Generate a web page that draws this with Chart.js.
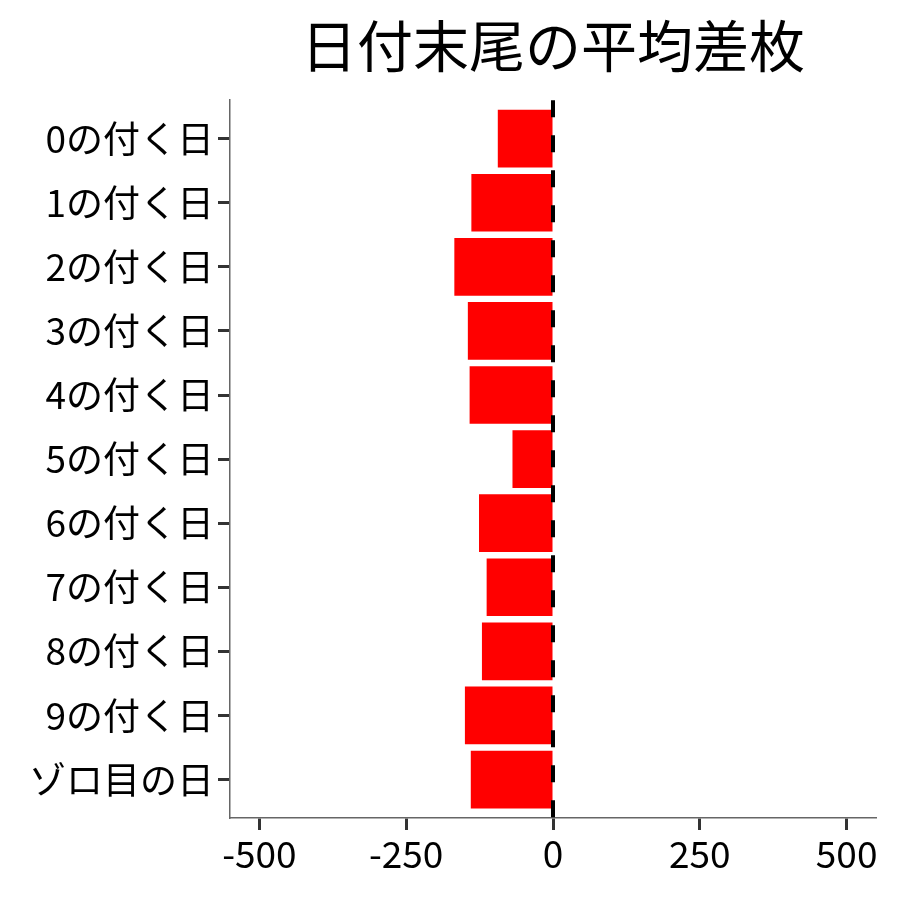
<html>
<head>
  <title>日付末尾の平均差枚</title>
  <style>
    body { margin: 0; background: #fff; }
    #wrap { width: 900px; height: 900px; }
  </style>
</head>
<body>
  <div id="wrap"><canvas id="chart" width="900" height="900"></canvas></div>

  <script src="https://cdn.jsdelivr.net/npm/chart.js"></script>
  <script>
    // datos
    const categories = ['0の付く日', '1の付く日', '2の付く日', '3の付く日', '4の付く日', '5の付く日',
      '6の付く日', '7の付く日', '8の付く日', '9の付く日', 'ゾロ目の日'];
    const diffValues = [-94, -139, -168, -145, -142, -69, -126, -113, -121, -150, -140];
    const xTicks = [-500, -250, 0, 250, 500];
    const titleText = '日付末尾の平均差枚';

    const FONT = '"Noto Sans CJK JP", "Noto Sans", sans-serif';

    // línea vertical discontinua en x = 0
    const zeroLine = {
      id: 'zeroLine',
      afterDatasetsDraw(chart) {
        const { ctx, chartArea, scales } = chart;
        const x = scales.x.getPixelForValue(0);
        ctx.save();
        ctx.strokeStyle = '#000';
        ctx.lineWidth = 4;
        ctx.setLineDash([17, 18]);
        ctx.beginPath();
        ctx.moveTo(x, chartArea.top);
        ctx.lineTo(x, chartArea.bottom);
        ctx.stroke();
        ctx.restore();
      }
    };

    new Chart(document.getElementById('chart'), {
      type: 'bar',
      data: {
        datasets: [{
          data: diffValues.map((v, i) => ({ x: v, y: i })),
          backgroundColor: '#ff0000',
          borderWidth: 0,
          barPercentage: 0.9,
          categoryPercentage: 1
        }]
      },
      options: {
        indexAxis: 'y',
        responsive: false,
        animation: false,
        layout: { padding: { top: 0, right: 24, bottom: 0, left: 0 } },
        scales: {
          x: {
            type: 'linear',
            min: -550,
            max: 550,
            afterBuildTicks: s => { s.ticks = xTicks.map(v => ({ value: v })); },
            afterFit: s => { s.height = 82; },
            ticks: { color: '#000', font: { family: FONT, size: 37 }, padding: 2 },
            grid: { offset: false, drawOnChartArea: false, drawTicks: true, tickLength: 12, tickColor: '#333', tickWidth: 3 },
            border: { display: true, color: '#666', width: 1.5 }
          },
          y: {
            type: 'linear',
            reverse: true,
            offset: false,
            min: -0.6,
            max: categories.length - 0.4,
            afterBuildTicks: s => { s.ticks = categories.map((c, i) => ({ value: i })); },
            afterFit: s => { s.width = 230; },
            ticks: {
              color: '#000', font: { family: FONT, size: 37 }, padding: 4,
              callback: v => categories[v]
            },
            grid: { offset: false, drawOnChartArea: false, drawTicks: true, tickLength: 12, tickColor: '#333', tickWidth: 3 },
            border: { display: true, color: '#666', width: 1.5 }
          }
        },
        plugins: {
          legend: { display: false },
          tooltip: { enabled: false },
          title: {
            display: true,
            text: titleText,
            fullSize: false,
            color: '#000',
            font: { family: FONT, size: 56, weight: 'normal' },
            padding: { top: 12, bottom: 21 }
          }
        }
      },
      plugins: [zeroLine]
    });
  </script>
</body>
</html>
